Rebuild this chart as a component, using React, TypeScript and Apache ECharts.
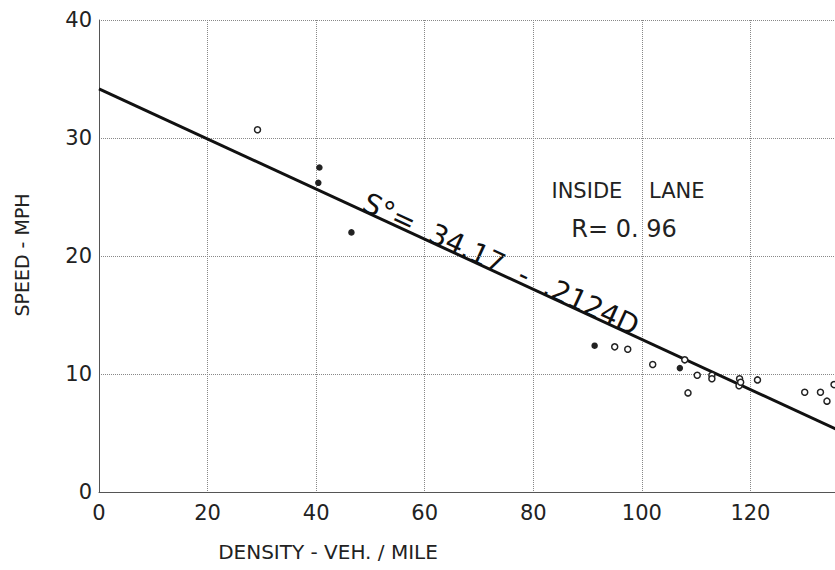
import React, { useEffect, useRef } from "react";
import * as echarts from "echarts";

const xTicks = [0, 20, 40, 60, 80, 100, 120];
const yTicks = [0, 10, 20, 30, 40];
const density = [29.2, 40.6, 40.4, 46.5, 91.3, 95.0, 97.4, 102.0, 107.0, 107.9, 108.5, 110.2, 112.9, 112.9, 118.0, 117.9, 118.2, 121.3, 130.0, 132.9, 134.1, 135.4];
const speed = [30.7, 27.5, 26.2, 22.0, 12.4, 12.3, 12.1, 10.8, 10.5, 11.2, 8.4, 9.9, 9.9, 9.6, 9.6, 9.0, 9.3, 9.5, 8.45, 8.45, 7.7, 9.1];
const filled = [false, true, true, true, true, false, false, false, true, false, false, false, false, false, false, false, false, false, false, false, false, false];
const intercept = 34.17;
const slope = 0.2124;
const lineX = [0, 140];

export default function App() {
  const ref = useRef<HTMLDivElement>(null);
  useEffect(() => {
    if (!ref.current) return;
    const chart = echarts.init(ref.current, null, { renderer: "svg" });
    const font = "DejaVu Sans";
    const pts = density.map((d, i) => ({
      value: [d, speed[i]],
      itemStyle: { color: filled[i] ? "#222222" : "#ffffff" },
      symbolSize: filled[i] ? 5 : 6,
    }));
    const linePts = lineX.map((x) => [x, intercept - slope * x]);
    chart.setOption({
      animation: false,
      backgroundColor: "#ffffff",
      grid: { left: 99, top: 20, width: 760, height: 472, containLabel: false, outerBoundsMode: "none" },
      xAxis: {
        type: "value",
        min: 0,
        max: 140,
        interval: 20,
        axisLine: { show: true, lineStyle: { color: "#555", width: 1 } },
        axisTick: { show: false },
        splitLine: { show: true, lineStyle: { color: "#888", width: 1, type: "dotted" } },
        axisLabel: {
          margin: 10,
          fontFamily: font,
          fontSize: 21,
          color: "#222",
          formatter: (v: number) => (xTicks.includes(v) ? String(v) : ""),
        },
      },
      yAxis: {
        type: "value",
        min: 0,
        max: 40,
        interval: 10,
        axisLine: { show: true, lineStyle: { color: "#555", width: 1 } },
        axisTick: { show: false },
        splitLine: { show: true, lineStyle: { color: "#888", width: 1, type: "dotted" } },
        axisLabel: {
          margin: 7,
          fontFamily: font,
          fontSize: 21,
          color: "#222",
          formatter: (v: number) => (yTicks.includes(v) ? String(v) : ""),
        },
      },
      series: [
        {
          type: "line",
          data: linePts,
          showSymbol: false,
          lineStyle: { color: "#111", width: 3 },
          silent: true,
          z: 2,
        },
        {
          type: "scatter",
          data: pts,
          symbol: "circle",
          symbolSize: 6,
          itemStyle: { borderColor: "#222222", borderWidth: 1.5, opacity: 1 },
          z: 3,
        },
      ],
      graphic: [
        {
          type: "text",
          x: 22,
          y: 255,
          rotation: Math.PI / 2,
          style: {
            text: "SPEED - MPH",
            fontFamily: font,
            fontSize: 19,
            fill: "#222",
            align: "center",
            verticalAlign: "middle",
          },
        },
        {
          type: "text",
          x: 328,
          y: 552,
          style: {
            text: "DENSITY - VEH. / MILE",
            fontFamily: font,
            fontSize: 20,
            fill: "#222",
            align: "center",
            verticalAlign: "middle",
          },
        },
        {
          type: "text",
          x: 628,
          y: 191,
          style: {
            text: "INSIDE    LANE",
            fontFamily: font,
            fontSize: 21,
            fill: "#222",
            align: "center",
            verticalAlign: "middle",
          },
        },
        {
          type: "text",
          x: 624,
          y: 229,
          style: {
            text: "R= 0. 96",
            fontFamily: font,
            fontSize: 24,
            fill: "#222",
            align: "center",
            verticalAlign: "middle",
          },
        },
        {
          type: "text",
          x: 495,
          y: 277,
          rotation: -0.433,
          style: {
            text: "S°=  34.17  -  .2124D",
            fontFamily: font,
            fontSize: 28,
            fill: "#111",
            align: "center",
            verticalAlign: "bottom",
          },
        },
      ],
    });
    return () => chart.dispose();
  }, []);
  return <div ref={ref} style={{ width: 835, height: 570, position: "absolute", left: 0, top: 0 }} />;
}
